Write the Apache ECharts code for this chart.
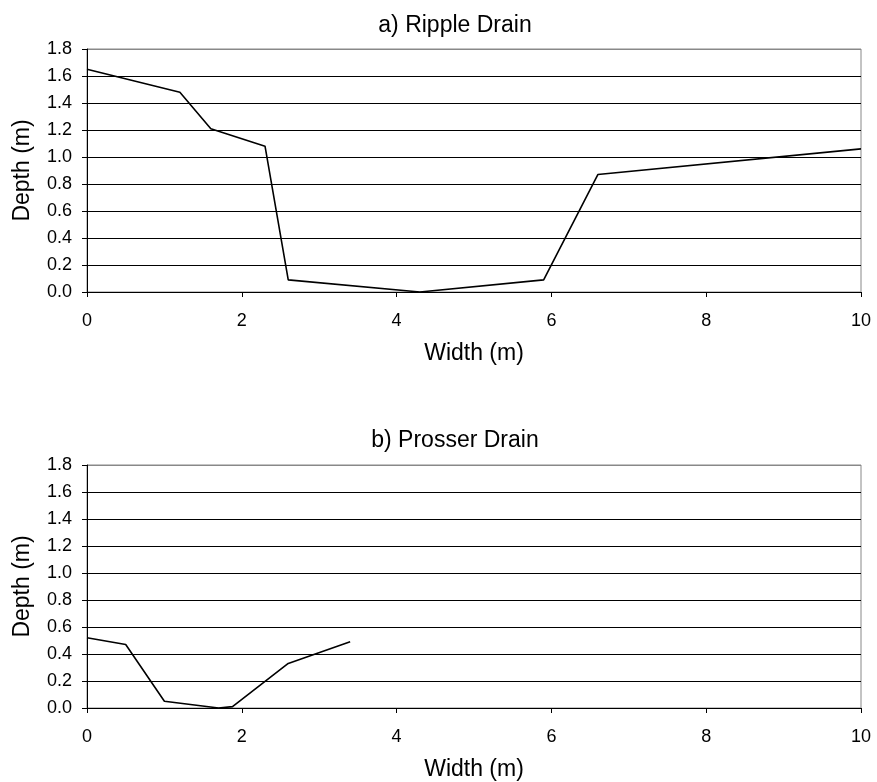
<!DOCTYPE html>
<html>
<head>
<meta charset="utf-8">
<script src="https://cdn.jsdelivr.net/npm/echarts@6/dist/echarts.min.js"></script>
<style>html,body{margin:0;padding:0;background:#fff}#c{width:877px;height:782px}</style>
</head>
<body>
<div id="c"></div>
<script>
var titleA = 'a) Ripple Drain';
var titleB = 'b) Prosser Drain';
var xName = 'Width (m)';
var yName = 'Depth (m)';
var widthA = [0, 1.2, 1.6, 2.3, 2.6, 4.3, 5.9, 6.6, 10];
var depthA = [1.65, 1.48, 1.21, 1.08, 0.09, 0.0, 0.09, 0.87, 1.06];
var widthB = [0, 0.5, 1.0, 1.7, 1.88, 2.6, 3.4];
var depthB = [0.52, 0.47, 0.05, 0.0, 0.01, 0.33, 0.49];

var FONT = "'Liberation Sans', Arial, sans-serif";
function pairs(xs, ys) { return xs.map(function (x, i) { return [x, ys[i]]; }); }

var splitColors = ['#000','#000','#000','#000','#000','#000','#000','#000','#000','#888'];

function xAxis(idx) {
  return {
    type: 'value', gridIndex: idx, min: 0, max: 10, interval: 2,
    name: xName, nameLocation: 'middle', nameGap: 50,
    nameTextStyle: { fontFamily: FONT, fontSize: 23, color: '#000' },
    axisLine: { show: true, onZero: false, lineStyle: { color: '#000', width: 1 } },
    axisTick: { show: true, inside: false, length: 5, lineStyle: { color: '#000' } },
    axisLabel: { fontFamily: FONT, fontSize: 18, color: '#000', margin: 20 },
    splitLine: { show: false }
  };
}
function yAxis(idx) {
  return {
    type: 'value', gridIndex: idx, min: 0, max: 1.8, interval: 0.2,
    name: yName, nameLocation: 'middle', nameGap: 53, nameRotate: 90,
    nameTextStyle: { fontFamily: FONT, fontSize: 23, color: '#000' },
    axisLine: { show: true, lineStyle: { color: '#000', width: 1 } },
    axisTick: { show: true, inside: false, length: 5, lineStyle: { color: '#000' } },
    axisLabel: { fontFamily: FONT, fontSize: 18, color: '#000', margin: 15,
      formatter: function (v) { return v.toFixed(1); } },
    splitLine: { show: true, lineStyle: { color: splitColors, width: 1 } }
  };
}

var chart = echarts.init(document.getElementById('c'), null, { renderer: 'canvas' });
chart.setOption({
  animation: false,
  backgroundColor: '#fff',
  title: [
    { text: titleA, left: 450, top: 9, textAlign: 'center',
      textStyle: { fontFamily: FONT, fontSize: 23, fontWeight: 'normal', color: '#000' } },
    { text: titleB, left: 450, top: 424, textAlign: 'center',
      textStyle: { fontFamily: FONT, fontSize: 23, fontWeight: 'normal', color: '#000' } }
  ],
  grid: [
    { left: 87, right: 16, top: 49, height: 243, show: true, borderColor: '#888', borderWidth: 1, backgroundColor: 'transparent' },
    { left: 87, right: 16, top: 465, height: 244, show: true, borderColor: '#888', borderWidth: 1, backgroundColor: 'transparent' }
  ],
  xAxis: [xAxis(0), xAxis(1)],
  yAxis: [yAxis(0), yAxis(1)],
  series: [
    { type: 'line', xAxisIndex: 0, yAxisIndex: 0, data: pairs(widthA, depthA),
      showSymbol: false, lineStyle: { color: '#000', width: 1.6 } },
    { type: 'line', xAxisIndex: 1, yAxisIndex: 1, data: pairs(widthB, depthB),
      showSymbol: false, lineStyle: { color: '#000', width: 1.6 } }
  ]
});
</script>
</body>
</html>
